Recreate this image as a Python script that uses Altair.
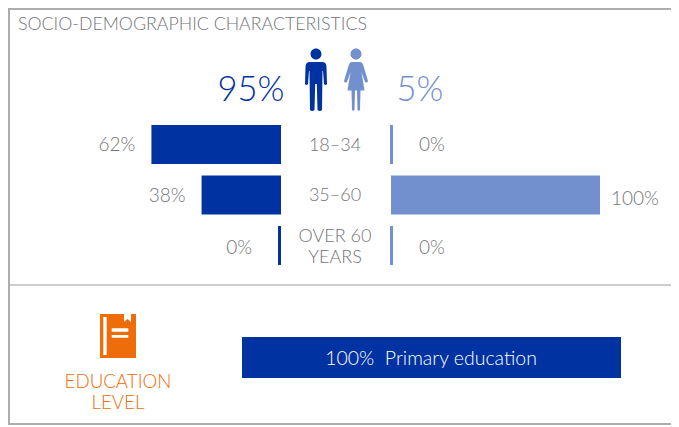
import altair as alt
import pandas as pd

ages = ["18–34", "35–60", "OVER 60"]
men_pct = [62, 38, 0]
women_pct = [0, 100, 0]
men_share = "95%"
women_share = "5%"
education = "100%\u00a0\u00a0Primary education"
education_pct = 100

NAVY = "#0033A1"
LIGHT = "#7290CE"
ORANGE = "#EF6C0A"
GREY = "#747578"
FONT = "Lato"
OX, OY = 8, 8
W, H = 663, 417

MAN = ("M-5.5,-26A5.5,5.5 0 1 1 5.5,-26A5.5,5.5 0 1 1 -5.5,-26Z"
       "M-6,-18L6,-18Q10.5,-18 10.5,-13L11,4Q9.5,6 8,4L7,-9L6.5,-9L6,30Q4,32 1.5,30L0.8,4L-0.8,4L-1.5,30Q-4,32 -6,30"
       "L-6.5,-9L-7,-9L-8,4Q-9.5,6 -11,4L-10.5,-13Q-10.5,-18 -6,-18Z")
WOMAN = ("M-5.5,-26A5.5,5.5 0 1 1 5.5,-26A5.5,5.5 0 1 1 -5.5,-26Z"
         "M-4,-18L4,-18Q6.5,-18 7.5,-14L12,1Q11,3.5 9,2L5.5,-8L8.5,10.5L4.5,10.5L4,30Q3,31.5 1.5,30L1,10.5L-1,10.5L-1.5,30"
         "Q-3,31.5 -4,30L-4.5,10.5L-8.5,10.5L-5.5,-8L-9,2Q-11,3.5 -12,1L-7.5,-14Q-6.5,-18 -4,-18Z")
BOOK = "M-18,-22L6,-22L6,-14L9.5,-17L13,-14L13,-22L18,-22L18,22L-18,22Z"
BOOK_W = ("M-14.7,-19L-11.3,-19L-11.3,19L-14.7,19Z"
          "M-6.3,-7.7L10.3,-7.7L10.3,-4.3L-6.3,-4.3Z"
          "M-6.3,-1L10.3,-1L10.3,1.7L-6.3,1.7Z")

def px(v):
    return alt.value(v)

men = pd.DataFrame({"age": ages, "pct": men_pct})
women = pd.DataFrame({"age": ages, "pct": women_pct})

rows = alt.Scale(domain=ages, type="point", padding=0, range=[144.5 - OY, 245.5 - OY])
left = alt.Scale(domain=[0, 100], range=[281 - OX, 72 - OX])
right = alt.Scale(domain=[0, 100], range=[391 - OX, 600 - OX])
xL = alt.X("pct:Q", scale=left, axis=None)
xR = alt.X("pct:Q", scale=right, axis=None)
yR = alt.Y("age:N", scale=rows, axis=None)

def label_layer(df, x, color=GREY, **kw):
    return alt.Chart(df).transform_calculate(lab="datum.pct + '%'").mark_text(
        font=FONT, fontWeight=300, fontSize=19, color=color, **kw
    ).encode(x=x, y=yR, text="lab:N")

layers = [
    alt.Chart(men[men.pct > 0]).mark_bar(size=39, color=NAVY, cornerRadius=0).encode(x=xL, x2=alt.datum(0), y=yR),
    alt.Chart(women[women.pct > 0]).mark_bar(size=39, color=LIGHT, cornerRadius=0).encode(x=xR, x2=alt.datum(0), y=yR),
    alt.Chart(men[men.pct == 0]).mark_tick(size=39, thickness=3, color=NAVY, opacity=1, xOffset=-1.5).encode(x=xL, y=yR),
    alt.Chart(women[women.pct == 0]).mark_tick(size=39, thickness=3, color=LIGHT, opacity=1, xOffset=0.5).encode(x=xR, y=yR),
    label_layer(men[men.age == ages[0]], xL, align="right", dx=-16),
    label_layer(men[men.age == ages[1]], xL, align="right", dx=-16, dy=1),
    label_layer(men[men.age == ages[2]], xL, align="right", dx=-29, dy=2.5),
    label_layer(women[women.age == ages[0]], xR, align="left", dx=28),
    label_layer(women[women.age == ages[1]], xR, align="left", dx=11, dy=4),
    label_layer(women[women.age == ages[2]], xR, align="left", dx=28, dy=2.5),
]

def text(t, x, y, size, color, align="center"):
    return alt.Chart(pd.DataFrame({"t": [t]})).mark_text(
        font=FONT, fontWeight=300, fontSize=size, color=color, align=align
    ).encode(x=px(x - OX), y=px(y - OY), text="t:N")

def icon(path, cx, cy, color):
    return alt.Chart(pd.DataFrame({"a": [1]})).mark_point(
        shape=path, size=4, filled=True, color=color, opacity=1, strokeWidth=0
    ).encode(x=px(cx - OX), y=px(cy - OY))

def hrule(y, color):
    return alt.Chart(pd.DataFrame({"a": [1]})).mark_rule(color=color, strokeWidth=2).encode(x=px(0), x2=px(W), y=px(y))

layers += [
    text("18–34", 335, 146, 18, GREY),
    text("35–60", 335, 196, 18, GREY),
    text("OVER 60", 335, 237, 18, GREY),
    text("YEARS", 335, 258, 18, GREY),
    text("SOCIO-DEMOGRAPHIC CHARACTERISTICS", 18, 25, 17.8, GREY, "left"),
    text(men_share, 251, 91, 34.5, NAVY),
    text(women_share, 420, 91, 34.5, LIGHT),
    icon(MAN, 316, 80, NAVY),
    icon(WOMAN, 356, 80, LIGHT),
    icon(BOOK, 118, 336, ORANGE),
    icon(BOOK_W, 118, 336, "white"),
    text("EDUCATION", 118, 382, 18.7, ORANGE),
    text("LEVEL", 118, 403, 18.7, ORANGE),
    alt.Chart(pd.DataFrame({"pct": [education_pct]})).mark_bar(size=41, color=NAVY, cornerRadius=0).encode(
        x=alt.X("pct:Q", scale=alt.Scale(domain=[0, 100], range=[242 - OX, 621 - OX]), axis=None),
        x2=alt.datum(0),
        y=px(357.5 - OY),
    ),
    text(education, 431, 358.5, 19.5, "white"),
    hrule(285 - OY, "#CCCCCC"),
    hrule(1, "#ADADAD"),
    hrule(H - 1, "#ADADAD"),
    alt.Chart(pd.DataFrame({"a": [1]})).mark_rule(color="#ADADAD", strokeWidth=2).encode(x=px(1), y=px(0), y2=px(H)),
]

chart = alt.layer(*layers).resolve_scale(x="independent", y="independent").properties(
    width=W, height=H, padding=0, autosize=alt.AutoSizeParams(type="none"), background="white",
).configure_view(stroke=None)

chart.save("out.html", embed_options={"renderer": "svg", "actions": False})
